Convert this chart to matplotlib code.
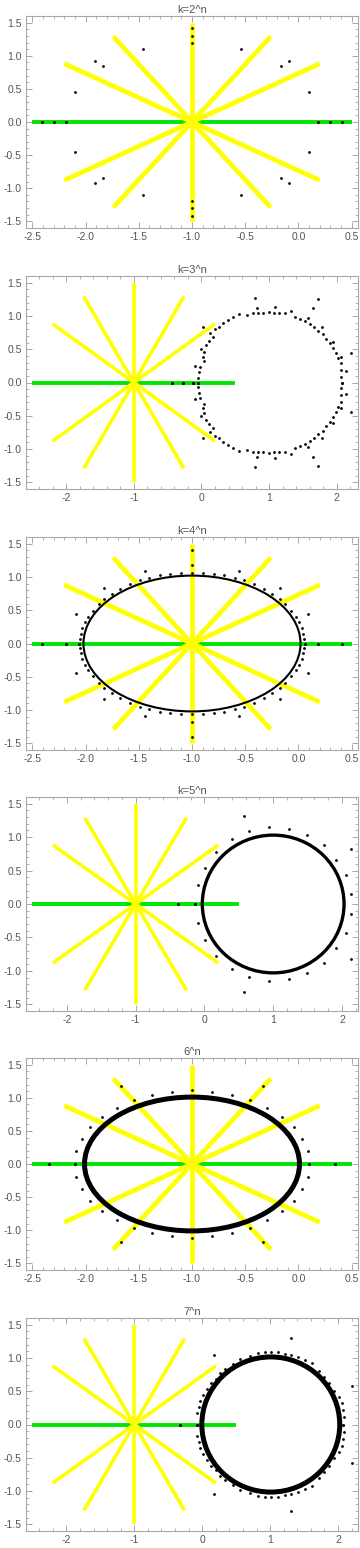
import numpy as np
import matplotlib.pyplot as plt
from matplotlib.patches import Circle
from matplotlib.ticker import MultipleLocator, FormatStrFormatter

plt.rcParams['font.family'] = ['Liberation Sans', 'DejaVu Sans']
plt.rcParams['axes.unicode_minus'] = False

# yellow star around (-1, 0): end points of the rays
star_c = (-1.0, 0.0)
ray_x = [0.2, -0.26, -1.0, -1.74, -2.2, -2.2, -1.74, -1.0, -0.26, 0.2]
ray_y = [0.88, 1.29, 1.5, 1.29, 0.88, -0.88, -1.29, -1.5, -1.29, -0.88]
# green segment on the real axis
green_x = [-2.5, 0.5]
green_y = [0.0, 0.0]

titles = ['k=2^n', 'k=3^n', 'k=4^n', 'k=5^n', '6^n', '7^n']

# black points, upper half only (the picture is symmetric in y)
p1_x = [-1, -1, -1, -1.458, -0.542, -1.916, -1.841, -0.159, -0.084, -2.097, 0.097,
        -2.414, -2.30, -2.18, 0.18, 0.30, 0.414]
p1_y = [1.415, 1.295, 1.19, 1.099, 1.099, 0.918, 0.843, 0.843, 0.918, 0.452, 0.452,
        0, 0, 0, 0, 0, 0]

p2_x = [0.785, 1.728, 2.214, 0.02, 0.82, 1.085, 1.654,
        0.560, 0.668, 0.756, 0.830, 0.913, 0.992, 1.065, 1.149, 1.237, 1.32,
        1.384, 1.463, 1.537, 1.581, 1.610, 1.669, 1.728, 1.787, 1.797, 1.846,
        1.895, 1.949, 1.949, 1.983, 2.067, 2.018, 2.057, 2.067, 2.131, 2.067, 2.072,
        0.461, 0.388, 0.314, 0.255, 0.206, 0.177, 0.128, 0.108, 0.069, -0.005,
        0.044, 0.02, 0.034, -0.029, -0.098, -0.039, -0.054, -0.054, -0.128,
        -0.44, -0.28]
p2_y = [1.265, 1.25, 0.442, 0.828, 1.114, 1.13, 1.114,
        1.029, 1.009, 1.039, 1.049, 1.049, 1.054, 1.049, 1.044, 1.039, 1.08,
        0.989, 0.959, 0.919, 0.969, 0.884, 0.838, 0.778, 0.828, 0.723, 0.653,
        0.587, 0.602, 0.517, 0.447, 0.387, 0.361, 0.286, 0.186, 0.171, 0.085, 0.0,
        0.989, 0.939, 0.899, 0.828, 0.798, 0.688, 0.738, 0.627, 0.562, 0.507,
        0.457, 0.387, 0.316, 0.236, 0.246, 0.161, 0.075, 0.0, 0.0,
        0.0, 0.0]

p3_x = [-1, -1, -1, -0.555, -1.445, -0.171, -1.829, 0.093, -2.093,
        -0.897, -0.794, -0.695, -0.600, -0.508, -0.414, -0.327, -0.252, -0.171,
        -0.125, -0.065, -0.020, 0.006, 0.031, 0.047, 0.053,
        -1.103, -1.206, -1.305, -1.400, -1.492, -1.586, -1.673, -1.748, -1.829,
        -1.875, -1.935, -1.980, -2.006, -2.031, -2.047, -2.053,
        0.065, 0.18, 0.41, -2.065, -2.18, -2.41]
p3_y = [1.41, 1.185, 1.06, 1.09, 1.09, 0.835, 0.835, 0.45, 0.45,
        1.065, 1.05, 1.03, 0.99, 0.95, 0.89, 0.82, 0.75, 0.67,
        0.59, 0.49, 0.40, 0.32, 0.24, 0.14, 0.065,
        1.065, 1.05, 1.03, 0.99, 0.95, 0.89, 0.82, 0.75, 0.67,
        0.59, 0.49, 0.40, 0.32, 0.24, 0.14, 0.065,
        0, 0, 0, 0, 0, 0]

p4_x = [0.573, 0.645, 0.935, 1.225, 1.486, 1.732, 1.92, 2.06, 2.138, 2.13,
        0.399, 0.172, 0.003, -0.093, -0.137, -0.38]
p4_y = [1.32, 1.085, 1.145, 1.12, 1.03, 0.88, 0.66, 0.43, 0.145, 0.82,
        0.97, 0.785, 0.545, 0.29, 0.0, 0.0]

p5_x = [-1, -0.8125, -0.625, -0.334, -0.456, -0.297, -0.156, -0.044, 0.031, 0.0875,
        0.097, 0.34,
        -1.1875, -1.375, -1.666, -1.544, -1.703, -1.844, -1.956, -2.031, -2.0875,
        -2.097, -2.34]
p5_y = [1.11, 1.085, 1.04, 1.176, 0.96, 0.845, 0.71, 0.558, 0.377, 0.196,
        0, 0,
        1.085, 1.04, 1.176, 0.96, 0.845, 0.71, 0.558, 0.377, 0.196,
        0, 0]

p6_x = [0.17, 1.31, 2.20, -0.327, -0.077,
        -0.072, -0.048, -0.038, 0.011, 0.07, 0.128, 0.197, 0.256, 0.334, 0.452,
        0.559, 0.706, 0.824, 0.926, 1.019, 1.117, 1.215, 1.313, 1.416, 1.509,
        1.616, 1.714, 1.797, 1.871, 1.944, 2.008, 2.057, 2.072, 2.081, 2.08]
p6_y = [1.045, 1.296, 0.578, 0, 0,
        0.166, 0.266, 0.352, 0.437, 0.528, 0.618, 0.678, 0.769, 0.839, 0.915,
        0.985, 1.035, 1.08, 1.09, 1.09, 1.09, 1.06, 1.04, 1.01, 0.97,
        0.92, 0.804, 0.709, 0.618, 0.508, 0.407, 0.317, 0.216, 0.106, 0]

pts_x = [p1_x, p2_x, p3_x, p4_x, p5_x, p6_x]
pts_y = [p1_y, p2_y, p3_y, p4_y, p5_y, p6_y]

# dense rings of points (centre x, radius), None where there is none
ring_cx = [None, None, -1.0, 1.0, -1.0, 1.01]
ring_r = [None, None, 1.02, 1.03, 1.01, 1.015]
ring_lw = [0, 0, 1.5, 2.4, 3.6, 3.6]

xlims = [(-2.56, 0.56), (-2.594, 2.314), (-2.56, 0.56),
         (-2.593, 2.233), (-2.56, 0.56), (-2.594, 2.294)]
ylim = (-1.6, 1.6)

# panel frames in pixels (top, bottom) on a 360x1548 canvas
tops = [16, 276, 537, 797, 1058, 1318]
bots = [228, 489, 750, 1011, 1270, 1531]

W, H = 360, 1548
fig = plt.figure(figsize=(W/100, H/100), dpi=100)

for i in range(6):
    ax = fig.add_axes([26/W, 1-bots[i]/H, (358-26)/W, (bots[i]-tops[i])/H])
    wide = i % 2 == 1
    lw_y = 2.6 if wide else 3.4
    ax.plot(green_x, green_y, color='#00e600', lw=2.8, solid_capstyle='butt', zorder=1)
    for ex, ey in zip(ray_x, ray_y):
        ax.plot([star_c[0], ex], [star_c[1], ey], color='#ffff00', lw=lw_y,
                solid_capstyle='butt', zorder=2)
    if ring_cx[i] is not None:
        ax.add_patch(Circle((ring_cx[i], 0), ring_r[i], fill=False, ec='black',
                            lw=ring_lw[i], zorder=3))
    x = np.array(pts_x[i])
    y = np.array(pts_y[i])
    ax.plot(np.concatenate([x, x]), np.concatenate([y, -y]), 'o', color='black',
            ms=2.0, mew=0, zorder=4)
    ax.set_xlim(xlims[i])
    ax.set_ylim(ylim)
    if wide:
        ax.xaxis.set_major_locator(MultipleLocator(1))
        ax.xaxis.set_minor_locator(MultipleLocator(0.2))
        ax.xaxis.set_major_formatter(FormatStrFormatter('%d'))
    else:
        ax.xaxis.set_major_locator(MultipleLocator(0.5))
        ax.xaxis.set_minor_locator(MultipleLocator(0.1))
        ax.xaxis.set_major_formatter(FormatStrFormatter('%.1f'))
    ax.yaxis.set_major_locator(MultipleLocator(0.5))
    ax.yaxis.set_minor_locator(MultipleLocator(0.1))
    ax.yaxis.set_major_formatter(FormatStrFormatter('%.1f'))
    ax.tick_params(which='both', direction='in', top=True, right=True,
                   color='#999999', labelsize=7.5, labelcolor='#555555', pad=3)
    ax.tick_params(which='major', length=4, width=0.6)
    ax.tick_params(which='minor', length=2, width=0.5)
    for s in ax.spines.values():
        s.set_color('#a8a8a8')
        s.set_linewidth(0.8)
    ax.set_title(titles[i], fontsize=8, color='#555555', pad=2)

fig.savefig('out.png', dpi=100)
